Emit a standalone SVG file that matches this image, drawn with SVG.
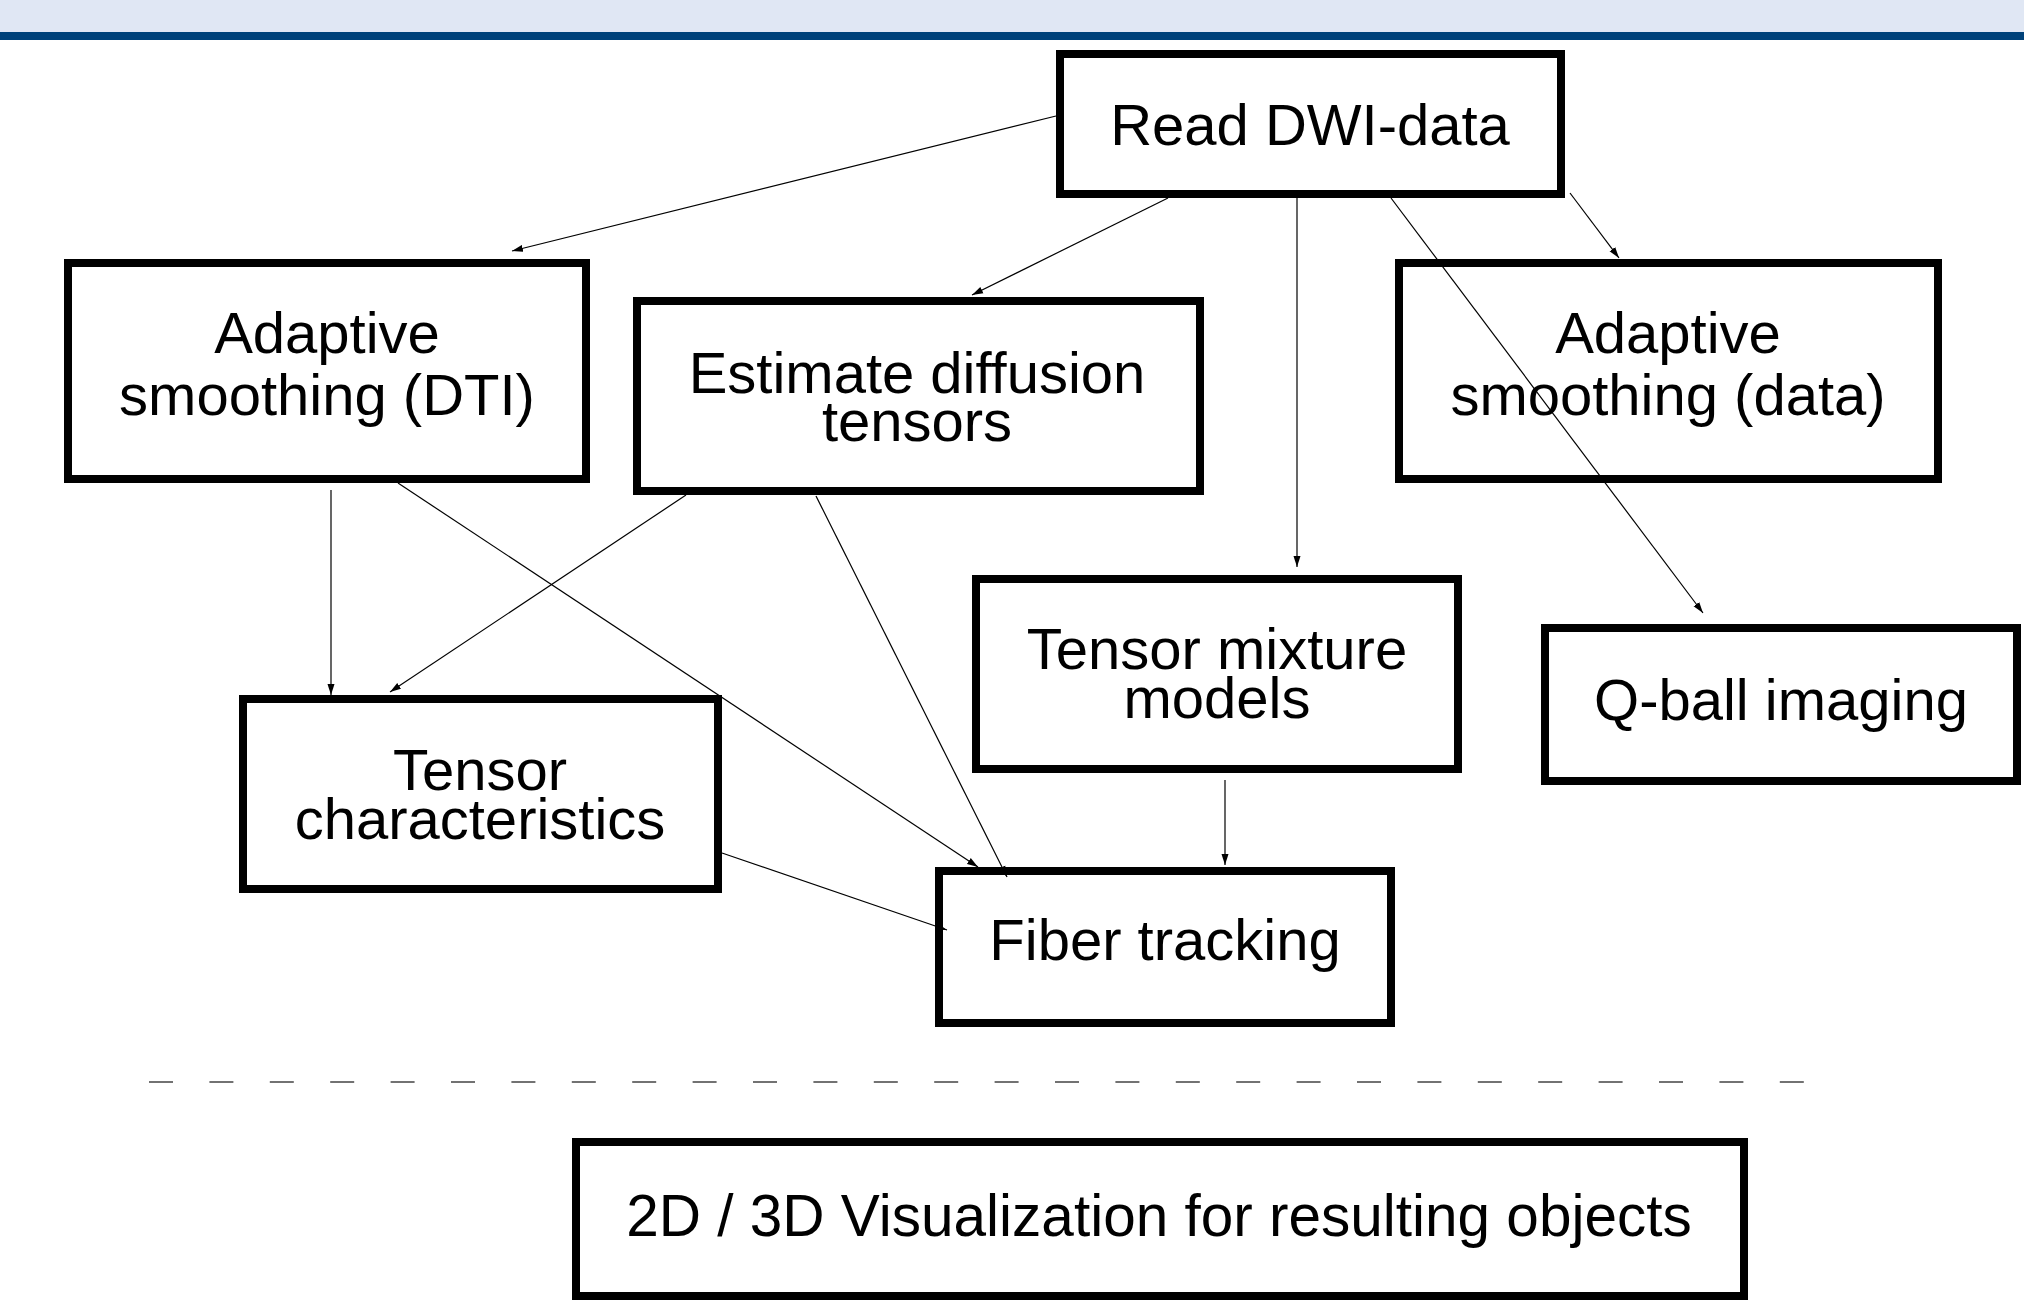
<svg xmlns="http://www.w3.org/2000/svg" width="2024" height="1306" viewBox="0 0 2024 1306">
<defs>
<style>
.box{fill:none;stroke:#000;stroke-width:8}
.lbl{font-family:"Liberation Sans",Arial,Helvetica,sans-serif;font-size:58px;fill:#000;text-anchor:middle}
.edge{fill:none;stroke:#000;stroke-width:1.2;marker-end:url(#ah)}
</style>
<marker id="ah" markerUnits="userSpaceOnUse" markerWidth="12" markerHeight="8" refX="11" refY="4" orient="auto">
<path d="M0,0.5 L11,4 L0,7.5 z" fill="#000"/>
</marker>
</defs>
<rect x="0" y="0" width="2024" height="1306" fill="#fff"/>
<rect x="0" y="0" width="2024" height="32" fill="#E0E7F4"/>
<rect x="0" y="32" width="2024" height="8" fill="#00427A"/>

<g id="connectors">
<line class="edge" x1="1056" y1="116" x2="512" y2="251"/>
<line class="edge" x1="1168" y1="198" x2="972" y2="295"/>
<line class="edge" x1="1297" y1="198" x2="1297" y2="567"/>
<line class="edge" x1="1391" y1="198" x2="1703" y2="613"/>
<line class="edge" x1="1570" y1="193" x2="1619" y2="258"/>
<line class="edge" x1="331" y1="490" x2="331" y2="695"/>
<line class="edge" x1="398" y1="483" x2="978" y2="867"/>
<line class="edge" x1="686" y1="495" x2="390" y2="692"/>
<line class="edge" x1="816" y1="496" x2="1007" y2="877"/>
<line class="edge" x1="1225" y1="780" x2="1225" y2="865"/>
<line class="edge" x1="722" y1="853" x2="947" y2="930"/>
</g>

<g id="read-dwi">
<rect class="box" x="1060" y="54" width="501" height="140"/>
<text class="lbl" x="1310" y="145">Read DWI-data</text>
</g>
<g id="adaptive-dti">
<rect class="box" x="68" y="263" width="518" height="216"/>
<text class="lbl" x="327" y="353">Adaptive</text>
<text class="lbl" x="327" y="415">smoothing (DTI)</text>
</g>
<g id="estimate-tensors">
<rect class="box" x="637" y="301" width="563" height="190"/>
<text class="lbl" x="917" y="393">Estimate diffusion</text>
<text class="lbl" x="917" y="441">tensors</text>
</g>
<g id="adaptive-data">
<rect class="box" x="1399" y="263" width="539" height="216"/>
<text class="lbl" x="1668" y="353">Adaptive</text>
<text class="lbl" x="1668" y="415">smoothing (data)</text>
</g>
<g id="tensor-mixture">
<rect class="box" x="976" y="579" width="482" height="190"/>
<text class="lbl" x="1217" y="669">Tensor mixture</text>
<text class="lbl" x="1217" y="718">models</text>
</g>
<g id="qball">
<rect class="box" x="1545" y="628" width="472" height="153"/>
<text class="lbl" x="1781" y="720">Q-ball imaging</text>
</g>
<g id="tensor-char">
<rect class="box" x="243" y="699" width="475" height="190"/>
<text class="lbl" x="480" y="790">Tensor</text>
<text class="lbl" x="480" y="839">characteristics</text>
</g>
<g id="fiber-tracking">
<rect class="box" x="939" y="871" width="452" height="152"/>
<text class="lbl" x="1165" y="960">Fiber tracking</text>
</g>

<line x1="149" y1="1082" x2="1810" y2="1082" stroke="#444" stroke-width="1.4" stroke-dasharray="24 36.4"/>

<g id="visualization">
<rect class="box" x="576" y="1142" width="1168" height="154"/>
<text class="lbl" x="1159" y="1236" style="font-size:58.5px">2D / 3D Visualization for resulting objects</text>
</g>
</svg>
